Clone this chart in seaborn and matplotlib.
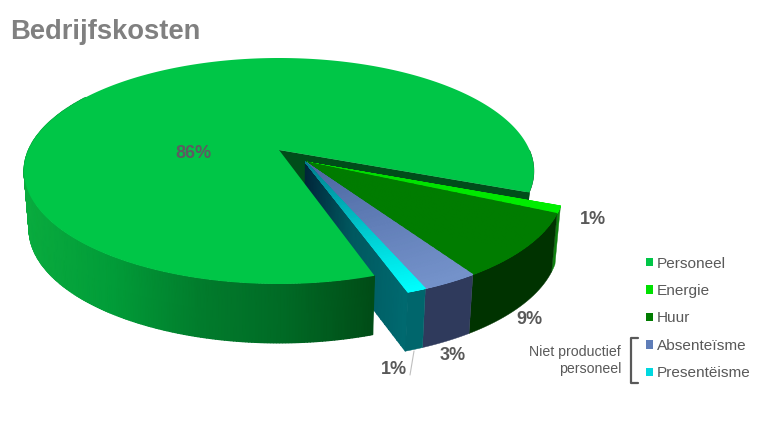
import numpy as np
import matplotlib
matplotlib.use('Agg')
import matplotlib.pyplot as plt
from matplotlib.patches import Patch
import seaborn as sns

categories = ['Personeel', 'Energie', 'Huur', 'Absenteïsme', 'Presentëisme']
shares = [86, 1, 9, 3, 1]
top_inner = ['#00C647', '#00D800', '#007C00', '#4A66A0', '#007F8C']
top_outer = ['#00C647', '#00F000', '#007C00', '#7593CB', '#00FFFF']
wall_colors = ['#00C647', '#0F800F', '#003300', '#2F3A5C', '#00666C']
legend_colors = ['#00C647', '#00E000', '#007C00', '#5F7DB8', '#00D8E0']

sns.set_theme(style='white')
plt.rcParams['font.family'] = ['Liberation Sans', 'DejaVu Sans']

fig, ax = plt.subplots(figsize=(7.68, 4.23), dpi=100)
ax.set_position([0, 0, 1, 1])
ax.set_xlim(0, 768)
ax.set_ylim(423, 0)
ax.axis('off')

# the 3d look: top and bottom disc as ellipses, with the centre pushed up by perspective
TOP = (279, 171, 255, 113)
BOTTOM = (279, 229, 250, 114)
V0 = -0.186
K = np.sqrt(1 - V0 ** 2)
EXPLODE = 0.15
EXPLODED_R = 0.99
START = 71.7  # degrees clockwise from 3 o'clock, where Personeel begins


def project(x, y, plane):
    cx, cy, a, b = plane
    d = 1 + y * V0
    return cx + a * x * K / d, cy + b * (y + V0) / d


def rim(t, off=(0, 0), r=1.0):
    return r * np.cos(np.radians(t)) + off[0], r * np.sin(np.radians(t)) + off[1]


def wall(t, plane_a, plane_b, off=(0, 0), r=1.0):
    # strip between two planes, following the rim over the angles t
    xa, ya = project(*rim(t, off, r), plane_a)
    xb, yb = project(*rim(t, off, r), plane_b)
    return np.array([xa, xb]), np.array([ya, yb])


def flat(xs, ys, color, z):
    ax.fill(np.ravel(xs), np.ravel(ys), color=color, lw=0.3, zorder=z)


degrees = np.array(shares) / sum(shares) * 360
edges = START + np.concatenate([[0], np.cumsum(degrees)])
main_end = edges[1]

apex_t = project(0, 0, TOP)
apex_b = project(0, 0, BOTTOM)

# cut wall and the small rim bit, both behind the exploded part
rim_t = project(*rim(main_end), TOP)
rim_b = project(*rim(main_end), BOTTOM)
flat([apex_t[0], rim_t[0], rim_b[0], apex_b[0]], [apex_t[1], rim_t[1], rim_b[1], apex_b[1]], '#004D1A', 1)
t = np.linspace(360, main_end, 20)
X, Y = wall(t, TOP, BOTTOM)
flat(np.r_[X[0], X[1][::-1]], np.r_[Y[0], Y[1][::-1]], '#004D1A', 1)

# exploded slices
mid = np.radians((edges[1] + edges[-1]) / 2)
off = (EXPLODE * np.cos(mid), EXPLODE * np.sin(mid))

# end wall of the last slice
rs = np.linspace(0, EXPLODED_R, 30)
xt, yt = project(*rim(edges[-1], off, rs), TOP)
xb, yb = project(*rim(edges[-1], off, rs), BOTTOM)
end_cmap = sns.blend_palette(['#00263A', '#00585F', '#006A70'], as_cmap=True)
ax.pcolormesh(np.array([xt, xb]), np.array([yt, yb]), np.array([rs, rs]), cmap=end_cmap,
              shading='gouraud', zorder=2)

for k in range(1, len(shares)):
    t = np.linspace(edges[k], edges[k + 1], 24)
    X, Y = wall(t, TOP, BOTTOM, off, EXPLODED_R)
    flat(np.r_[X[0], X[1][::-1]], np.r_[Y[0], Y[1][::-1]], wall_colors[k], 3)
    # top face, lighter to the rim
    rr, tt = np.meshgrid(np.linspace(0, EXPLODED_R, 30), t)
    xf, yf = project(rr * np.cos(np.radians(tt)) + off[0], rr * np.sin(np.radians(tt)) + off[1], TOP)
    cmap = sns.blend_palette([top_inner[k], top_outer[k]], as_cmap=True)
    ax.pcolormesh(xf, yf, rr, cmap=cmap, shading='gouraud', zorder=4)
    flat(np.r_[xf[:, -1]], np.r_[yf[:, -1]], top_outer[k], 4)

# front wall of the main slice goes over the exploded part
t = np.linspace(START, 212, 240)
X, Y = wall(t, TOP, BOTTOM)
wall_cmap = sns.blend_palette(['#09AB3E', '#019C38', '#017C2C', '#006A25', '#004D17'], as_cmap=True)
ax.pcolormesh(X, Y, np.clip((X - 28) / (372 - 28), 0, 1), cmap=wall_cmap, shading='gouraud', zorder=5)

theta = np.linspace(START, main_end, 400)
px, py = project(*rim(theta), TOP)
ax.fill(np.r_[apex_t[0], px], np.r_[apex_t[1], py], color=top_outer[0], lw=0, zorder=6)

# percentages
label_xy = [(193, 153), (593, 220), (529, 320), (453, 355), (394, 370)]
for s, (x, y) in zip(shares, label_xy):
    color = '#5E5A62' if s == 86 else '#595959'
    ax.text(x, y, f'{s}%', ha='center', va='center', fontsize=13, fontweight='bold',
            color=color, zorder=8)
ax.plot([414, 410], [351, 375], color='#BFBFBF', lw=0.8, zorder=7)

ax.text(10, 39, 'Bedrijfskosten', fontsize=19.7, fontweight='bold', color='#808080',
        ha='left', va='baseline')

handles = [Patch(facecolor=c, edgecolor='none') for c in legend_colors]
ax.legend(handles, categories, loc='upper left', bbox_to_anchor=(646, 256.5),
          bbox_transform=ax.transData, frameon=False, fontsize=11.1, labelcolor='#595959',
          handlelength=0.46, handleheight=0.5, handletextpad=0.22, labelspacing=0.875,
          borderpad=0, borderaxespad=0)

ax.text(621, 360.5, 'Niet productief\npersoneel', ha='right', va='center', fontsize=10.2,
        color='#595959', linespacing=1.3)
ax.plot([638, 631, 631, 638], [338, 338, 383, 383], color='#595959', lw=1.6)

fig.savefig('out.png', dpi=100)
